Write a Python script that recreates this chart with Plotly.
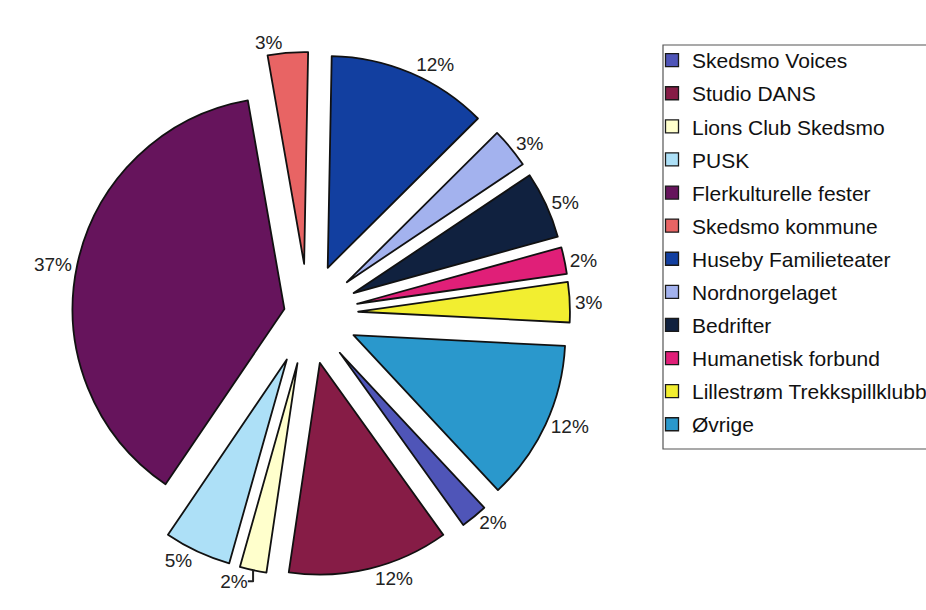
import plotly.graph_objects as go

# ---- data ----
categories = [
    "Skedsmo Voices", "Studio DANS", "Lions Club Skedsmo", "PUSK",
    "Flerkulturelle fester", "Skedsmo kommune", "Huseby Familieteater",
    "Nordnorgelaget", "Bedrifter", "Humanetisk forbund",
    "Lillestrøm Trekkspillklubb", "Øvrige",
]
percent_values = [2, 12, 2, 5, 37, 3, 12, 3, 5, 2, 3, 12]

# ---- style ----
colors = [
    "#4f55b8", "#861c46", "#ffffcc", "#ade0f7",
    "#66145c", "#e86464", "#123fa0", "#a3b2ee",
    "#10213f", "#e01f78", "#f2ee30", "#2a98cc",
]
pulls = [0.114 if c == "Flerkulturelle fester" else 0.237 for c in categories]

W, H = 926, 610
fig = go.Figure()

fig.add_trace(go.Pie(
    labels=categories,
    values=percent_values,
    sort=False,
    direction="clockwise",
    rotation=137,
    pull=pulls,
    marker=dict(colors=colors, line=dict(color="#111111", width=1.8)),
    textposition="outside",
    texttemplate="%{value}%",
    textfont=dict(family="Liberation Sans, Arial, sans-serif", size=19, color="#222222"),
    showlegend=False,
    hoverinfo="label+value",
    domain=dict(x=[46 / W, 570 / W], y=[1 - 576 / H, 1 - 52 / H]),
))

# legend entries (one per category, so row spacing can match the original)
for name, col in zip(categories, colors):
    fig.add_trace(go.Scatter(
        x=[None], y=[None], mode="markers", name=name, legendgroup=name,
        marker=dict(symbol="square", size=13, color=col,
                    line=dict(color="#1a1a1a", width=1.3)),
        hoverinfo="skip",
    ))

fig.update_layout(
    width=W, height=H,
    margin=dict(l=0, r=0, t=0, b=0, autoexpand=False),
    paper_bgcolor="white", plot_bgcolor="white",
    xaxis=dict(visible=False), yaxis=dict(visible=False),
    legend=dict(
        x=652 / W, y=1 - 40 / H, xanchor="left", yanchor="top",
        font=dict(family="Liberation Sans, Arial, sans-serif", size=21, color="#111111"),
        traceorder="grouped", tracegroupgap=2.8,
        bgcolor="rgba(0,0,0,0)", borderwidth=0,
    ),
    shapes=[dict(
        type="rect", xref="paper", yref="paper",
        x0=663 / W, x1=1.02, y0=1 - 449 / H, y1=1 - 45 / H,
        line=dict(color="#555555", width=1.2), fillcolor="rgba(0,0,0,0)",
    )],
)

fig.write_html("out.html", config={"displayModeBar": False},
               post_script="document.body.style.margin='0px';")
